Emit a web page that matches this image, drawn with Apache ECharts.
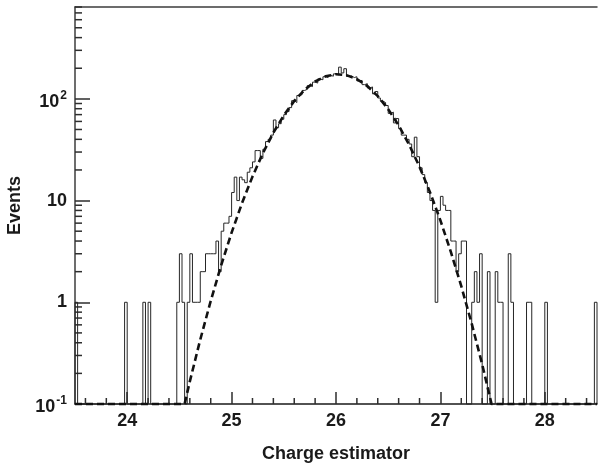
<!DOCTYPE html>
<html>
<head>
<meta charset="utf-8">
<title>Charge estimator</title>
<script src="https://cdn.jsdelivr.net/npm/echarts@6/dist/echarts.min.js"></script>
<style>
  html, body { margin: 0; padding: 0; background: #fff; }
  #chart { width: 598px; height: 464px; }
</style>
</head>
<body>
<div id="chart"></div>
<script>
// histogram: 200 bins of width 0.025 starting at 23.5
var binLow = 23.5;
var binWidth = 0.025;
var counts = [
  1, 0, 0, 0, 0, 0, 0, 0, 0, 0,
  0, 0, 0, 0, 0, 0, 0, 0, 0, 1,
  0, 0, 0, 0, 0, 0, 1, 0, 1, 0,
  0, 0, 0, 0, 0, 0, 0, 0, 0, 1,
  3, 1, 0, 1, 3, 1, 1, 1, 2, 2,
  3, 3, 3, 3, 4, 2, 5, 6, 6, 7,
  12, 17, 10, 17, 16, 15, 19, 21, 24, 31,
  31, 26, 32, 38, 40, 44, 62, 52, 57, 63,
  70, 75, 82, 96, 92, 108, 110, 121, 124, 135,
  132, 146, 143, 157, 154, 165, 162, 170, 167, 176,
  172, 205, 180, 198, 166, 168, 162, 165, 150, 152,
  138, 141, 128, 131, 112, 118, 102, 95, 92, 86,
  72, 74, 58, 64, 51, 44, 44, 40, 36, 27,
  42, 27, 21, 18, 15, 12, 10, 8, 1, 8,
  11, 9, 8, 8, 4, 4, 2, 3, 4, 4,
  0, 0, 1, 2, 1, 3, 0, 0, 2, 0,
  0, 2, 1, 1, 0, 0, 3, 1, 0, 0,
  0, 0, 0, 1, 1, 0, 0, 0, 0, 0,
  1, 0, 0, 0, 0, 0, 0, 0, 0, 0,
  0, 0, 0, 0, 0, 0, 0, 0, 0, 1
];

// gaussian fit (dashed); clipped to the frame bottom
var fitX = [23.5, 24.55, 24.6, 24.7, 24.8, 24.9, 25.0, 25.1, 25.2, 25.3, 25.4,
  25.5, 25.6, 25.7, 25.8, 25.9, 26.0, 26.1, 26.2, 26.3, 26.4, 26.5, 26.6,
  26.7, 26.8, 26.9, 27.0, 27.1, 27.2, 27.3, 27.4, 27.49, 28.5];
var fitY = [0.1, 0.1, 0.167, 0.43, 1.03, 2.31, 4.84, 9.45, 17.2, 29.3, 46.5,
  68.9, 95.3, 122.9, 148.1, 166.5, 174.8, 171.2, 156.5, 133.6, 106.4, 79.1, 54.9,
  35.5, 21.5, 12.1, 6.38, 3.13, 1.44, 0.616, 0.246, 0.1, 0.1];

var xTicks = [24, 25, 26, 27, 28];
var yTicks = [0.1, 1, 10, 100];
var yTickLabels = ['{b|10}{s|-1}', '{n|1}', '{n|10}', '{b|10}{s|2}'];

var xMin = 23.5, xMax = 28.5;
var yMin = 0.1, yMax = 800;

// minor tick positions (0.2 steps on x, 2..9 per decade on y)
var xMinor = [];
for (var k = 118; k <= 142; k++) {
  if (k % 5 !== 0) xMinor.push(+(k * 0.2).toFixed(1));
}
var yMinor = [];
for (var d = -1; d <= 2; d++) {
  for (var m = 2; m <= 9; m++) {
    var v = +(m * Math.pow(10, d)).toPrecision(3);
    if (v <= yMax) yMinor.push(v);
  }
}

var histData = [[binLow, yMin]];
for (var i = 0; i < counts.length; i++) {
  histData.push([binLow + i * binWidth, Math.max(counts[i], yMin)]);
}
var binHigh = binLow + counts.length * binWidth;
histData.push([binHigh, Math.max(counts[counts.length - 1], yMin)]);
histData.push([binHigh, yMin]);

var fitData = fitX.map(function (x, j) { return [x, fitY[j]]; });

var font = '"Liberation Sans", Arial, Helvetica, sans-serif';
var frameColor = '#3c3c3c';
var tickColor = '#2e2e2e';
var textColor = '#1a1a1a';

function minorTick(dir, len) {
  return function (params, api) {
    var p = api.coord([api.value(0), api.value(1)]);
    var dx = dir === 'y' ? len : 0;
    var dy = dir === 'x' ? -len : 0;
    return {
      type: 'line',
      shape: { x1: p[0], y1: p[1], x2: p[0] + dx, y2: p[1] + dy },
      style: { stroke: tickColor, lineWidth: 1.5 }
    };
  };
}

var myChart = echarts.init(document.getElementById('chart'));
myChart.setOption({
  animation: false,
  grid: { left: 75, right: 1, top: 7, bottom: 60, containLabel: false, outerBoundsMode: 'none' },
  xAxis: [
    {
      type: 'value', min: xMin, max: xMax, position: 'bottom',
      name: 'Charge estimator', nameLocation: 'middle', nameGap: 41,
      nameTextStyle: { fontFamily: font, fontWeight: 'bold', fontSize: 18, color: textColor },
      axisLine: { show: true, onZero: false, lineStyle: { color: textColor, width: 1.5 } },
      axisTick: { show: true, inside: true, length: 12, customValues: xTicks, lineStyle: { color: tickColor, width: 1.5 } },
      axisLabel: { customValues: xTicks, margin: 8, fontFamily: font, fontWeight: 'bold', fontSize: 18, color: textColor },
      splitLine: { show: false }
    },
    {
      // top edge of the frame
      type: 'value', min: xMin, max: xMax, position: 'top',
      axisLine: { show: true, onZero: false, lineStyle: { color: frameColor, width: 1.5 } },
      axisTick: { show: false },
      axisLabel: { show: false },
      splitLine: { show: false }
    }
  ],
  yAxis: [
    {
      type: 'log', logBase: 10, min: yMin, max: yMax, position: 'left',
      name: 'Events', nameLocation: 'middle', nameGap: 46,
      nameTextStyle: { fontFamily: font, fontWeight: 'bold', fontSize: 18, color: textColor },
      axisLine: { show: true, onZero: false, lineStyle: { color: frameColor, width: 1.5 } },
      axisTick: { show: true, inside: true, length: 15, customValues: yTicks, lineStyle: { color: tickColor, width: 1.5 } },
      axisLabel: {
        customValues: yTicks, margin: 8,
        formatter: function (val) {
          var idx = yTicks.indexOf(val);
          if (idx < 0) idx = Math.round(Math.log10(val)) + 1;
          return yTickLabels[idx];
        },
        rich: {
          n: { fontFamily: font, fontWeight: 'bold', fontSize: 18, color: textColor },
          b: { fontFamily: font, fontWeight: 'bold', fontSize: 18, lineHeight: 24, color: textColor,
               verticalAlign: 'bottom' },
          s: { fontFamily: font, fontWeight: 'bold', fontSize: 12, lineHeight: 12, color: textColor,
               verticalAlign: 'top', padding: [3, 0, 0, 1] }
        }
      },
      splitLine: { show: false }
    }
  ],
  series: [
    {
      name: 'data', type: 'line', step: 'end',
      data: histData, showSymbol: false, clip: false,
      lineStyle: { color: '#262626', width: 1 }
    },
    {
      name: 'fit', type: 'line',
      data: fitData, showSymbol: false, clip: false,
      lineStyle: { color: '#111', width: 2.6, type: [7, 4] }
    },
    {
      name: 'x minor ticks', type: 'custom', silent: true, clip: false,
      data: xMinor.map(function (x) { return [x, yMin]; }),
      renderItem: minorTick('x', 6)
    },
    {
      name: 'y minor ticks', type: 'custom', silent: true, clip: false,
      data: yMinor.map(function (y) { return [xMin, y]; }),
      renderItem: minorTick('y', 7)
    }
  ]
});
</script>
</body>
</html>
